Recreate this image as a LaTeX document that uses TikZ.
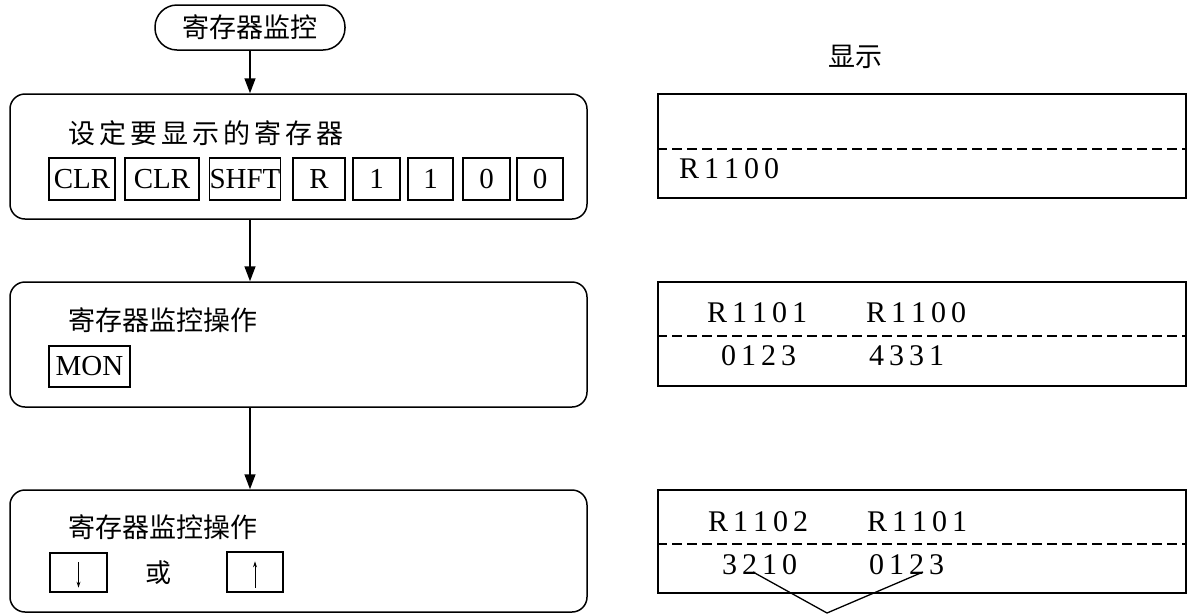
\documentclass[tikz,border=0pt]{standalone}
\usepackage{fontspec}
\setmainfont{Liberation Serif}
\newfontfamily\cjk{Noto Sans CJK SC}
\usetikzlibrary{arrows.meta}
\begin{document}
\begin{tikzpicture}[x=1pt,y=-1pt,
  proc/.style={draw, line width=1.5pt, rounded corners=15pt, inner sep=0pt, minimum width=577pt},
  oval/.style={draw, line width=1.5pt, rounded corners=22pt, minimum width=190pt, minimum height=45pt, inner sep=0pt, font=\cjk\fontsize{27}{30}\selectfont},
  keybox/.style={draw, line width=1.3pt, minimum height=42pt, inner sep=0pt, font=\fontsize{29}{32}\selectfont},
  title/.style={anchor=west, inner sep=0pt, font=\cjk\fontsize{27}{30}\selectfont},
  disp/.style={draw, line width=1.5pt, minimum width=528pt, inner sep=0pt},
  digits/.style={anchor=west, inner sep=0pt, font=\fontsize{30}{32}\selectfont},
  arr/.style={line width=1.5pt, -{Triangle[length=15pt,width=11pt]}},
  dline/.style={line width=1.5pt, dash pattern=on 10pt off 5pt},
  karr/.style={line width=1pt, -{Stealth[length=6pt,width=4pt]}},
  thin/.style={line width=1.3pt}
]
\useasboundingbox (0,0) rectangle (1187,614);

% flow chart
\node[oval] (start) at (250,27.5) {寄存器监控};
\node[proc, minimum height=125pt] (p1) at (298.5,156.5) {};
\node[proc, minimum height=125pt] (p2) at (298.5,344.5) {};
\node[proc, minimum height=122pt] (p3) at (298.5,551) {};

\draw[arr] (start.south) -- (start.south |- p1.north);
\draw[arr] (p1.south -| start) -- (p2.north -| start);
\draw[arr] (p2.south -| start) -- (p3.north -| start);

% box 1
\node[title] (t1) at (68,133) {设\kern4pt 定\kern4pt 要\kern4pt 显\kern4pt 示\kern4pt 的\kern4pt 寄\kern4pt 存\kern4pt 器};
\node[keybox, minimum width=66pt] (k1) at (82,179) {CLR};
\node[keybox, minimum width=74pt] (k2) at (162,179) {CLR};
\node[keybox, minimum width=70pt] (k3) at (245,179) {SHFT};
\node[keybox, minimum width=52pt] (k4) at (319,179) {R};
\node[keybox, minimum width=47pt] (k5) at (376.5,179) {1};
\node[keybox, minimum width=45pt] (k6) at (430.5,179) {1};
\node[keybox, minimum width=47pt] (k7) at (486.5,179) {0};
\node[keybox, minimum width=46pt] (k8) at (540,179) {0};

% box 2
\node[title] (t2) at (68,320) {寄存器监控操作};
\node[keybox, minimum width=81pt, minimum height=41pt] (mon) at (89.5,366.5) {MON};

% box 3
\node[title] (t3) at (68,527) {寄存器监控操作};
\node[keybox, minimum width=57pt, minimum height=39pt] (kd) at (78.5,572.5) {};
\node[inner sep=0pt, font=\cjk\fontsize{26}{28}\selectfont] (or) at (158,573) {或};
\node[keybox, minimum width=56pt, minimum height=40pt] (ku) at (255,572) {};
\draw[karr] ([yshift=-10pt]kd.north) -- ([yshift=5pt]kd.south);
\draw[karr] ([yshift=5pt]ku.south) -- ([yshift=-10pt]ku.north);

% displays
\node[inner sep=0pt, font=\cjk\fontsize{27}{30}\selectfont] (lbl) at (855,57) {显示};

\node[disp, minimum height=104pt] (d1) at (922,146) {};
\node[disp, minimum height=104pt] (d2) at (922,334) {};
\node[disp, minimum height=103pt] (d3) at (922,541.5) {};

\coordinate (y1) at (0,149);
\coordinate (y2) at (0,336);
\coordinate (y3) at (0,544);
\draw[dline] (d1.west |- y1) -- (d1.east |- y1);
\draw[dline] (d2.west |- y2) -- (d2.east |- y2);
\draw[dline] (d3.west |- y3) -- (d3.east |- y3);

\node[digits] (a1) at (679,169) {R\kern5pt 1\kern5pt 1\kern5pt 0\kern5pt 0};

\node[digits] (b1) at (707,313) {R\kern5pt 1\kern5pt 1\kern5pt 0\kern5pt 1};
\node[digits] (b2) at (866,313) {R\kern5pt 1\kern5pt 1\kern5pt 0\kern5pt 0};
\node[digits] (b3) at (721,356) {0\kern5pt 1\kern5pt 2\kern5pt 3};
\node[digits] (b4) at (869,356) {4\kern5pt 3\kern5pt 3\kern5pt 1};

\node[digits] (c1) at (708,522) {R\kern5pt 1\kern5pt 1\kern5pt 0\kern5pt 2};
\node[digits] (c2) at (867,522) {R\kern5pt 1\kern5pt 1\kern5pt 0\kern5pt 1};
\node[digits] (c3) at (722,565) {3\kern5pt 2\kern5pt 1\kern5pt 0};
\node[digits] (c4) at (869,565) {0\kern5pt 1\kern5pt 2\kern5pt 3};

\coordinate (m1) at (753,572);
\coordinate (m2) at (923,572);
\coordinate (apex) at (827,613);
\draw[thin] (m1) -- (apex) -- (m2);
\end{tikzpicture}
\end{document}
